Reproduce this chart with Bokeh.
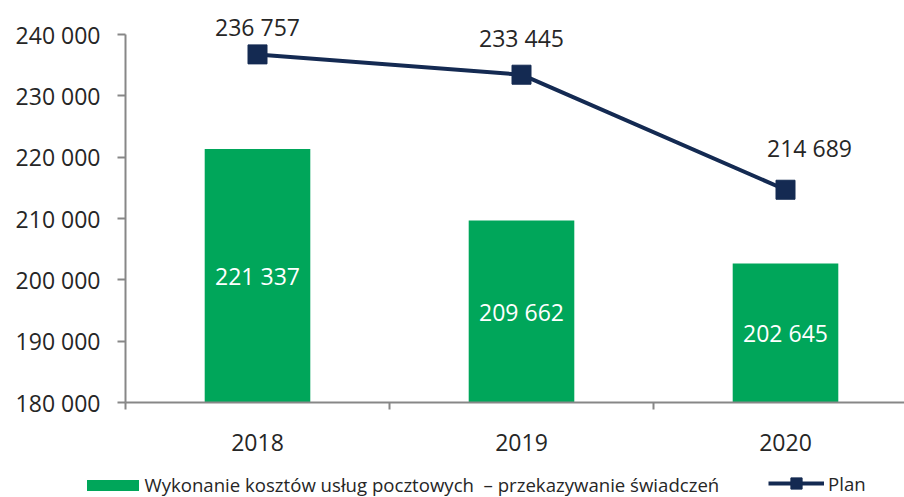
from bokeh.plotting import figure
from bokeh.models import ColumnDataSource, Range1d, FixedTicker, LabelSet, Legend, LegendItem
from bokeh.core.properties import value
from bokeh.embed import file_html
from bokeh.resources import INLINE

# ---- data ----
years = ["2018", "2019", "2020"]
wykonanie = [221337, 209662, 202645]
plan = [236757, 233445, 214689]
y_ticks = [180000, 190000, 200000, 210000, 220000, 230000, 240000]
bar_name = "Wykonanie kosztów usług pocztowych  \u2013 przekazywanie świadczeń"
line_name = "Plan"

# ---- style / layout ----
GREEN = "#00A65A"
NAVY = "#142A52"
GREY = "#878787"
TEXT = "#262626"
FONT = "Open Sans"
W, H = 904, 497
AX_LEFT_PX = 125          # pixel column of the value axis
AX_BOTTOM_PX = 402        # pixel row of the category axis
AX_TOP_PX = 34            # pixel row of the top tick
CAT_PX = 264              # pixels per category
plan_label_dx = [0, 0, 24]
plan_label_dy = [27, 37, 42]


def fmt(v):
    return f"{v:,}".replace(",", " ")


x = [i + 0.5 for i in range(len(years))]
base = y_ticks[0]
ymin, ymax = y_ticks[0], y_ticks[-1]
per_px = (ymax - ymin) / (AX_BOTTOM_PX - AX_TOP_PX)

bar_src = ColumnDataSource(dict(
    x=x, top=wykonanie,
    mid=[(base + v) / 2 for v in wykonanie],
    lbl=[fmt(v) for v in wykonanie]))
plan_src = ColumnDataSource(dict(
    x=x, y=plan, lbl=[fmt(v) for v in plan],
    dx=plan_label_dx, dy=plan_label_dy))

p = figure(width=W, height=H, output_backend="svg", toolbar_location=None,
           x_range=Range1d(-AX_LEFT_PX / CAT_PX, (W - AX_LEFT_PX) / CAT_PX),
           y_range=Range1d(ymin - (H - AX_BOTTOM_PX) * per_px,
                           ymax + AX_TOP_PX * per_px),
           min_border=0, min_border_left=0, min_border_right=0,
           min_border_top=0, min_border_bottom=0)
p.outline_line_color = None
p.xgrid.visible = False
p.ygrid.visible = False
p.background_fill_color = "white"
p.border_fill_color = "white"

bars = p.vbar(x="x", top="top", bottom=base, width=0.4, source=bar_src,
              fill_color=GREEN, line_color=None)
line = p.line("x", "y", source=plan_src, line_color=NAVY, line_width=4)
marks = p.scatter("x", "y", source=plan_src, marker="square", size=19,
                  fill_color=NAVY, line_color=NAVY, line_width=1)

# axes (drawn at fixed data locations inside the frame)
xa = p.xaxis[0]
xa.fixed_location = ymin
xa.bounds = (0, len(years))
xa.ticker = FixedTicker(ticks=x, minor_ticks=list(range(len(years) + 1)))
xa.major_label_overrides = {xi: y for xi, y in zip(x, years)}
xa.major_tick_out = 0
xa.major_tick_in = 0
xa.minor_tick_out = 7
xa.minor_tick_in = 0
xa.minor_tick_line_color = GREY
xa.minor_tick_line_width = 2
xa.axis_line_color = GREY
xa.axis_line_width = 2
xa.major_label_standoff = 24
xa.major_label_text_font = FONT
xa.major_label_text_font_size = "23px"
xa.major_label_text_color = TEXT

ya = p.yaxis[0]
ya.fixed_location = 0
ya.bounds = (ymin, ymax)
ya.ticker = FixedTicker(ticks=y_ticks)
ya.major_label_overrides = {t: fmt(t) for t in y_ticks}
ya.major_tick_out = 8
ya.major_tick_in = 0
ya.minor_tick_out = 0
ya.minor_tick_in = 0
ya.major_tick_line_color = GREY
ya.major_tick_line_width = 2
ya.axis_line_color = GREY
ya.axis_line_width = 2
ya.major_label_standoff = 17
ya.major_label_text_font = FONT
ya.major_label_text_font_size = "23px"
ya.major_label_text_color = TEXT

# labels
p.add_layout(LabelSet(x="x", y="mid", text="lbl", source=bar_src,
                      text_align="center", text_baseline="middle",
                      text_color="white", text_font=value(FONT),
                      text_font_size="23px"))
p.add_layout(LabelSet(x="x", y="y", text="lbl", source=plan_src,
                      x_offset="dx", y_offset="dy",
                      text_align="center", text_baseline="middle",
                      text_color=TEXT, text_font=value(FONT),
                      text_font_size="23px"))

# legends
LEG_FS = "18.6px"
leg1 = Legend(items=[LegendItem(label=value(bar_name), renderers=[bars])],
              location=(79.5, 0), orientation="horizontal",
              glyph_width=65, glyph_height=14, label_standoff=0,
              padding=0, margin=0, border_line_color=None,
              background_fill_alpha=0, label_text_font=FONT,
              label_text_font_size=LEG_FS, label_text_color=TEXT)
leg2 = Legend(items=[LegendItem(label=value(line_name), renderers=[line, marks])],
              location=(768, 0), orientation="horizontal",
              glyph_width=56, glyph_height=28, label_standoff=4,
              padding=0, margin=0, border_line_color=None,
              background_fill_alpha=0, label_text_font=FONT,
              label_text_font_size=LEG_FS, label_text_color=TEXT)
p.add_layout(leg1)
p.add_layout(leg2)

open("out.html", "w").write(file_html(p, INLINE))
